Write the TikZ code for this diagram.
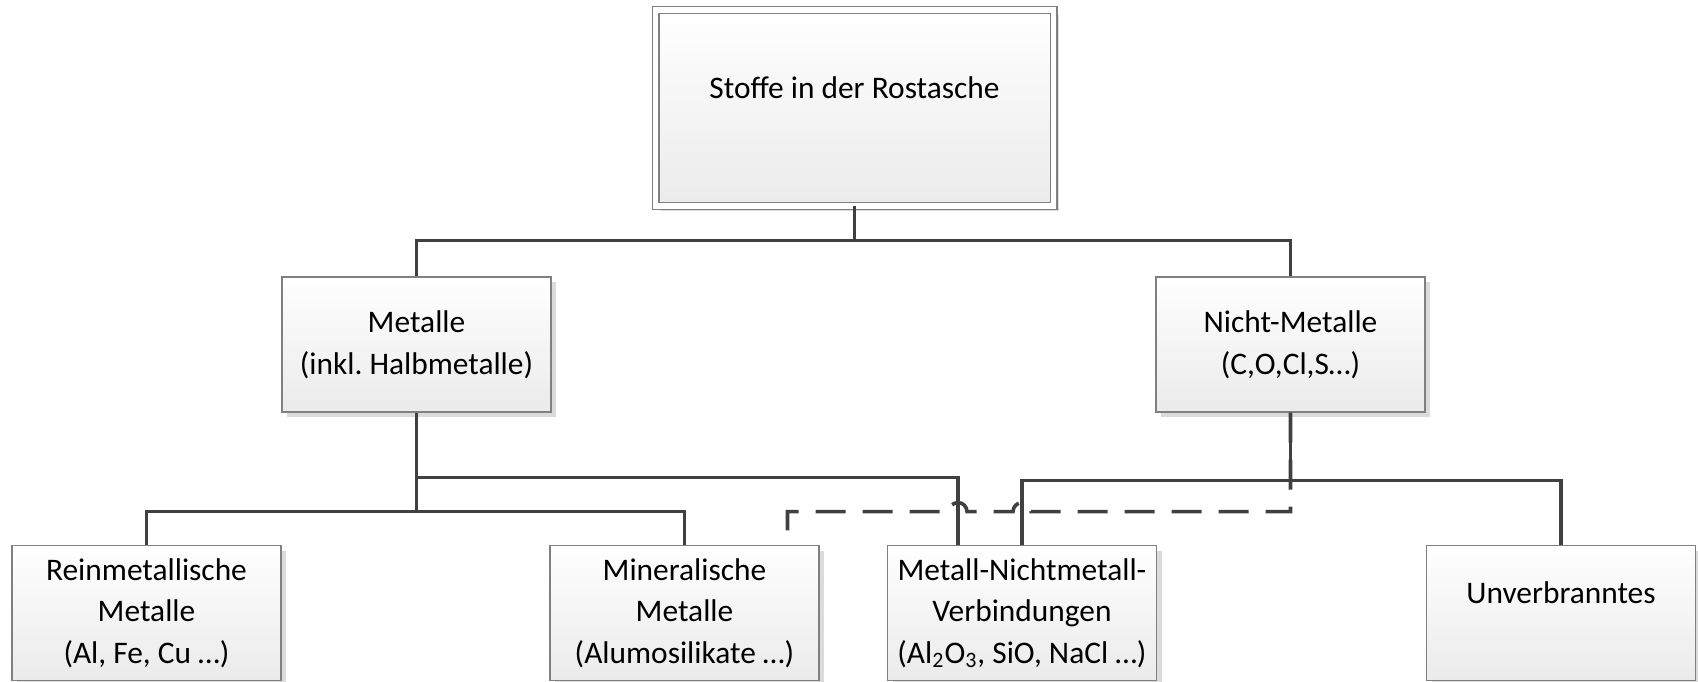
\documentclass[tikz,border=0pt]{standalone}
\usepackage{fontspec}
\setmainfont{Carlito}
\frenchspacing
\usetikzlibrary{positioning,calc,shadows}
\tikzset{box/.style={draw=black!50, line width=0.6pt, top color=white, bottom color=black!8, minimum width=134.5pt, minimum height=67.5pt, inner sep=0pt, align=center, font=\fontsize{15.7}{20.8}\selectfont, general shadow={shadow xshift=2.5pt, shadow yshift=-2.5pt, fill=black!14}}}
\tikzset{topbox/.style={box, double=white, double distance=2.8pt, minimum width=199pt, minimum height=97.75pt}}
\tikzset{conn/.style={draw=black!75, line width=1.8pt}}
\tikzset{hopline/.style={conn, dash pattern=on 15pt off 8.5pt}}

\begin{document}
\begin{tikzpicture}[x=0.5pt, y=-0.5pt]
	\clip (0,0) rectangle (1698,681);
	\node[topbox] (ash) at (854.5,108) {Stoffe in der Rostasche\\\mbox{}};
	\node[box] (metal) at (416.5,344.5) {Metalle\\(inkl. Halbmetalle)};
	\node[box] (nonmetal) at (1290.5,344.5) {Nicht-Metalle\\(C,O,Cl,S…)};
	%
	\node[box] (pure) at (146.5,613) {Reinmetallische\\Metalle\\(Al, Fe, Cu …)};
	\node[box] (mineral) at (684.5,613) {Mineralische\\Metalle\\(Alumosilikate …)};
	\node[box] (compound) at (1022,613) {Metall-Nichtmetall-\\Verbindungen\\(Al\textsubscript{2}O\textsubscript{3}, SiO, NaCl …)};
	\node[box] (unburnt) at (1561,613) {Unverbranntes\\\mbox{}};
	%
	\coordinate (bend) at ($(nonmetal.south)+(0,-49.5pt)$);
	\draw[hopline] (nonmetal.south) -- (bend)
		-- ($(compound.north |- bend)+(4.5pt,0)$) arc[start angle=0, end angle=180, radius=4.5pt]
		-- ($(compound.north |- bend)+(-27.5pt,0)$) arc[start angle=0, end angle=180, radius=4.5pt]
		-- ($(mineral.north |- bend)+(51.5pt,0)$) -- ($(mineral.north)+(51.5pt,0)$);
	%
	\draw[conn] (ash.south) -- ++(0,-17pt) -| (metal.north);
	\draw[conn] (ash.south) -- ++(0,-17pt) -| (nonmetal.north);
	\draw[conn] (metal.south) -- ++(0,-49.5pt) -| (pure.north);
	\draw[conn] (metal.south) -- ++(0,-49.5pt) -| (mineral.north);
	\draw[conn] (metal.south) -- ++(0,-32.5pt) -| ($(compound.north)+(-32pt,0)$);
	\draw[conn] (nonmetal.south) -- ++(0,-34pt) -| (compound.north);
	\draw[conn] (nonmetal.south) -- ++(0,-34pt) -| (unburnt.north);
\end{tikzpicture}
\end{document}
